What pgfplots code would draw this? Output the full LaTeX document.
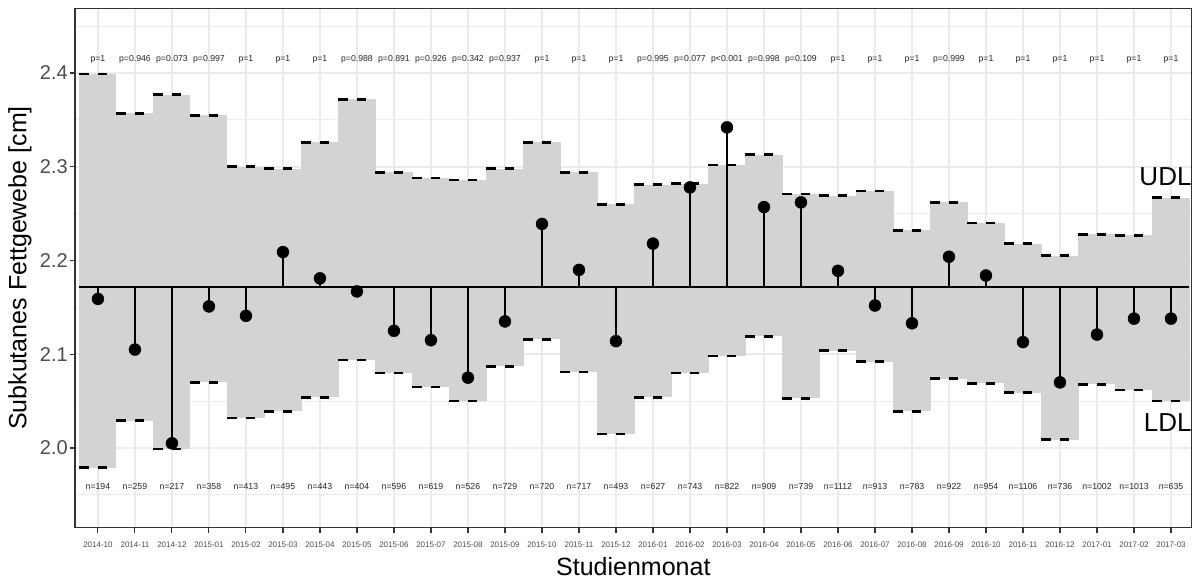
\documentclass[border=0pt]{standalone}
\usepackage{fontspec}
\setmainfont{Liberation Sans}
\usepackage{pgfplots}
\usepackage{pgfplotstable}
\pgfplotsset{compat=1.18}

\definecolor{bandgrey}{RGB}{211,211,211}
\definecolor{gridgrey}{RGB}{235,235,235}
\definecolor{framegrey}{RGB}{51,51,51}
\definecolor{ticktext}{RGB}{77,77,77}

% monthly mean, lower/upper decision limits, sample size and p-value
\pgfplotstableread{
m low up val n p
0 1.979 2.399 2.159 194 p=1
1 2.029 2.357 2.105 259 p=0.946
2 1.999 2.377 2.005 217 p=0.073
3 2.070 2.355 2.151 358 p=0.997
4 2.032 2.300 2.141 413 p=1
5 2.039 2.298 2.209 495 p=1
6 2.054 2.326 2.181 443 p=1
7 2.094 2.372 2.167 404 p=0.988
8 2.080 2.294 2.125 596 p=0.891
9 2.065 2.288 2.115 619 p=0.926
10 2.050 2.286 2.075 526 p=0.342
11 2.087 2.298 2.135 729 p=0.937
12 2.116 2.326 2.239 720 p=1
13 2.081 2.294 2.190 717 p=1
14 2.015 2.260 2.114 493 p=1
15 2.054 2.281 2.218 627 p=0.995
16 2.080 2.282 2.278 743 p=0.077
17 2.098 2.302 2.342 822 p<0.001
18 2.119 2.313 2.257 909 p=0.998
19 2.053 2.271 2.262 739 p=0.109
20 2.104 2.269 2.189 1112 p=1
21 2.092 2.274 2.152 913 p=1
22 2.039 2.232 2.133 783 p=1
23 2.074 2.262 2.204 922 p=0.999
24 2.069 2.240 2.184 954 p=1
25 2.059 2.218 2.113 1106 p=1
26 2.009 2.205 2.070 736 p=1
27 2.068 2.228 2.121 1002 p=1
28 2.062 2.227 2.138 1013 p=1
29 2.050 2.267 2.138 635 p=1
}\shewhart

\pgfplotsset{
  limitdash/.style={draw=none, mark=none, forget plot,
    error bars/.cd, x dir=plus, x fixed=0.25, error mark=none,
    error bar style={draw=black, line width=2.7pt, line cap=butt}},
}

\begin{document}
\begin{tikzpicture}
\begin{axis}[
  x=37pt, y=937.5pt,
  xmin=-0.62, xmax=29.56, ymin=1.915, ymax=2.469,
  axis line style={framegrey, line width=1.3pt},
  tick style={framegrey, line width=1.1pt},
  tick align=outside, major tick length=5.5pt, minor tick length=0pt,
  xtick pos=bottom, ytick pos=left,
  xtick={0,...,29},
  xticklabels={2014-10,2014-11,2014-12,2015-01,2015-02,2015-03,2015-04,2015-05,2015-06,2015-07,2015-08,2015-09,2015-10,2015-11,2015-12,2016-01,2016-02,2016-03,2016-04,2016-05,2016-06,2016-07,2016-08,2016-09,2016-10,2016-11,2016-12,2017-01,2017-02,2017-03},
  ytick={2.0,2.1,2.2,2.3,2.4},
  minor ytick={1.95,2.05,2.15,2.25,2.35,2.45},
  yticklabel style={/pgf/number format/fixed, /pgf/number format/fixed zerofill,
    /pgf/number format/precision=1, /pgf/number format/assume math mode=true},
  x tick label style={font=\fontsize{8}{9}\selectfont, text=ticktext, yshift=-5pt},
  y tick label style={font=\fontsize{20}{24}\selectfont, text=ticktext, inner sep=1.5pt},
  grid=both,
  major grid style={gridgrey, line width=1.6pt},
  minor grid style={gridgrey, line width=1.1pt},
  xlabel={Studienmonat},
  ylabel={Subkutanes Fettgewebe [cm]},
  label style={font=\fontsize{25}{30}\selectfont, text=black},
  xlabel style={at={(axis description cs:0.5,0)}, anchor=center, yshift=-39pt},
  ylabel style={at={([xshift=-55pt]axis description cs:0,0.5)}, anchor=center},
]
% decision band, one month wide per category
\addplot[draw=none, mark=none, forget plot,
  error bars/.cd, y dir=minus, y explicit, error mark=none,
  error bar style={draw=bandgrey, line width=37.1pt}]
  table[x=m, y=up, y error minus expr=\thisrow{up}-\thisrow{low}] {\shewhart};
% dashed limit marks: two dashes per month on each limit
\addplot[limitdash] table[x expr=\thisrow{m}-0.5, y=up] {\shewhart};
\addplot[limitdash] table[x=m, y=up] {\shewhart};
\addplot[limitdash] table[x expr=\thisrow{m}-0.5, y=low] {\shewhart};
\addplot[limitdash] table[x=m, y=low] {\shewhart};
% centre line
\addplot[black, line width=2.2pt, mark=none] coordinates {(-0.5,2.172) (29.5,2.172)};
% stems from the centre line to each monthly mean
\addplot[draw=none, mark=none,
  error bars/.cd, y dir=both, y explicit, error mark=none,
  error bar style={draw=black, line width=1.9pt}]
  table[x=m, y expr=2.172,
        y error plus expr={max(0,\thisrow{val}-2.172)},
        y error minus expr={max(0,2.172-\thisrow{val})}] {\shewhart};
% monthly means
\addplot[only marks, mark=*, mark size=6pt, black] table[x=m, y=val] {\shewhart};
% p-values and sample sizes
\addplot[draw=none, mark=none, nodes near coords, point meta=explicit symbolic,
  every node near coord/.append style={anchor=center, inner sep=0pt, font=\fontsize{8.7}{10}\selectfont, text=black!85}]
  table[x=m, y expr=2.414, meta=p] {\shewhart};
\addplot[draw=none, mark=none, nodes near coords={n=\pgfplotspointmeta}, point meta=explicit symbolic,
  every node near coord/.append style={anchor=center, inner sep=0pt, font=\fontsize{8.7}{10}\selectfont, text=black!85}]
  table[x=m, y expr=1.959, meta=n] {\shewhart};
\node[anchor=east, inner sep=0pt, font=\fontsize{26}{30}\selectfont] at (axis cs:29.56,2.289) {UDL};
\node[anchor=east, inner sep=0pt, font=\fontsize{26}{30}\selectfont] at (axis cs:29.56,2.027) {LDL};
\coordinate (pSW) at (rel axis cs:0,0);
\coordinate (pNE) at (rel axis cs:1,1);
\end{axis}
\pgfresetboundingbox
\path[use as bounding box] ([shift={(-75pt,-53pt)}]pSW) rectangle ([shift={(4.3pt,8.3pt)}]pNE);
\end{tikzpicture}
\end{document}
